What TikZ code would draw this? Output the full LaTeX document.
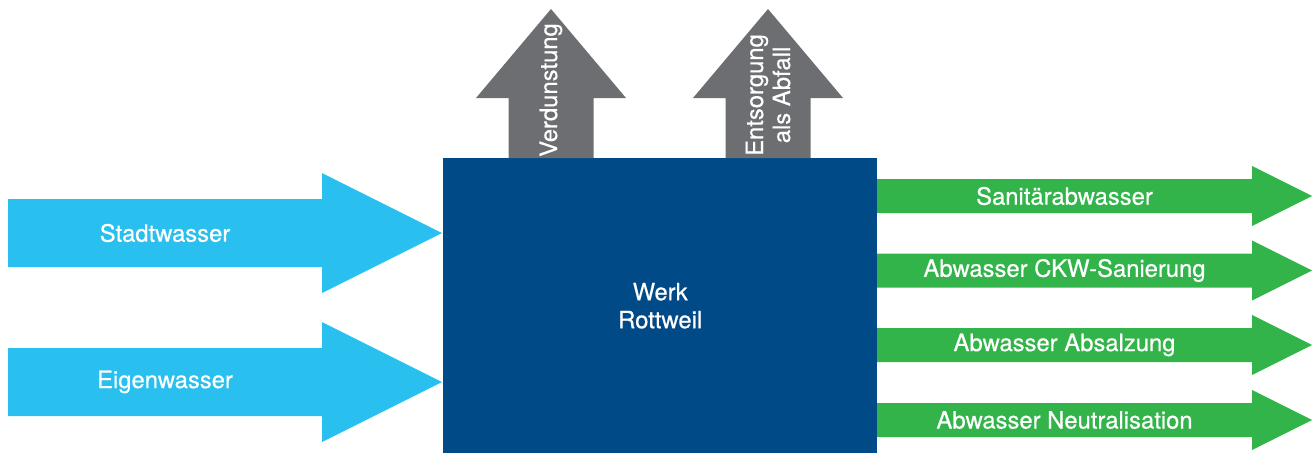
\documentclass[tikz,border=0pt]{standalone}
\usepackage{fontspec}
\setmainfont[FakeBold=0.5]{TeX Gyre Heros}
\usetikzlibrary{positioning}
\definecolor{inflow}{HTML}{29BFEF}
\definecolor{plant}{HTML}{004A87}
\definecolor{loss}{HTML}{6D6E71}
\definecolor{outflow}{HTML}{33B44A}
\tikzset{
  flowtext/.style={text=white, align=center, inner sep=0pt},
}

\begin{document}
\begin{tikzpicture}[x=1pt, y=-1pt, font=\fontsize{23.8}{27}\selectfont]
    \useasboundingbox (0,0) rectangle (1314,453);

    % plant
    \node[fill=plant, flowtext, minimum width=434pt, minimum height=295pt, anchor=north west] (werk) at (443,158) {Werk\\[1pt]Rottweil};

    % incoming water
    \foreach \y/\name/\txt in {233/stadt/Stadtwasser, 382/eigen/Eigenwasser} {
        \fill[inflow] (8,\y-34) -- (322,\y-34) -- (322,\y-60) -- (442,\y) -- (322,\y+60) -- (322,\y+34) -- (8,\y+34) -- cycle;
        \node[flowtext] (\name) at (165,\y) {\txt};
    }

    % losses upwards
    \foreach \x in {551,768} {
        \fill[loss] (\x-42.5,158) -- (\x-42.5,98) -- (\x-75,98) -- (\x,9) -- (\x+75,98) -- (\x+42.5,98) -- (\x+42.5,158) -- cycle;
    }
    \node[flowtext, rotate=90] (verd) at (551,90) {Verdunstung};
    \node[flowtext, rotate=90] (entsorg) at (768,95) {Entsorgung\\als Abfall};

    % waste water
    \foreach \y/\name/\txt in {196/sanitaer/Sanit\"arabwasser, 270.5/ckw/Abwasser CKW-Sanierung, 345/salz/Abwasser Absalzung, 420/neutral/Abwasser Neutralisation} {
        \fill[outflow] (877,\y-17) -- (1252,\y-17) -- (1252,\y-30) -- (1312,\y) -- (1252,\y+30) -- (1252,\y+17) -- (877,\y+17) -- cycle;
        \node[flowtext] (\name) at (1064.5,\y) {\txt};
    }
\end{tikzpicture}
\end{document}
